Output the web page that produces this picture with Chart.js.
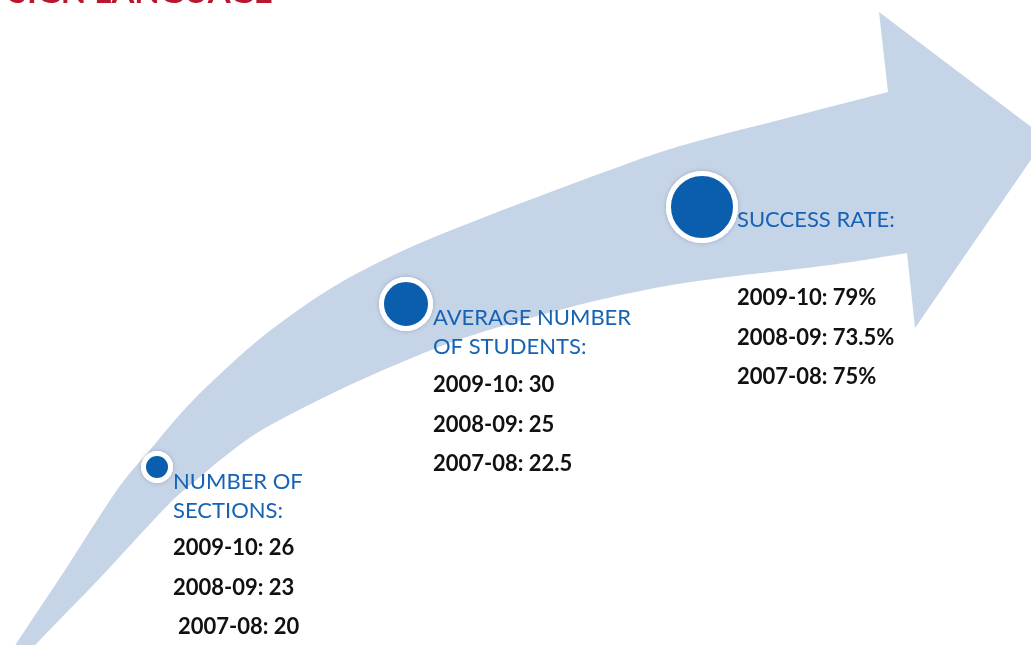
<!DOCTYPE html>
<html>
<head>
<meta charset="utf-8">
<style>
  html, body { margin: 0; padding: 0; background: #ffffff; }
  #wrap { width: 1031px; height: 645px; position: relative; overflow: hidden; }
  canvas { display: block; }
</style>
<script src="https://cdn.jsdelivr.net/npm/chart.js@4/dist/chart.umd.min.js"></script>
</head>
<body>
<div id="wrap"><canvas id="c" width="1031" height="645"></canvas></div>
<script>
// ---------------- DATA ----------------
const pageTitle = 'SIGN LANGUAGE';
const metricTitles = [
  ['NUMBER OF', 'SECTIONS:'],
  ['AVERAGE NUMBER', 'OF STUDENTS:'],
  ['SUCCESS RATE:']
];
const years = ['2009-10', '2008-09', '2007-08'];
const numberOfSections = [26, 23, 20];
const averageStudents = [30, 25, 22.5];
const successRate = [79, 73.5, 75];
const valueSuffix = ['', '', '%'];

// ---------------- LAYOUT (positions / sizes, in scale units = px) ----------------
const markerX = [157, 406, 702];
const markerY = [467, 304, 207];
const markerR = [11, 22, 31];
const labelX = [173, 433, 737];
const headerBase = [489, 325, 227];
const headerGap = 29;
const valueBase = [555, 392, 305];
const valueGap = 39.5;
const valueIndent = [[0, 0, 5], [0, 0, 0], [0, 0, 0]];

// arrow outline (decorative)
const arrowUpper = [[12,650],[67,567],[117,490],[150,450],[183,411],[217,377],[267,333],[333,287],[400,252],[467,224],[540,196],[610,170],[680,146],[787,118],[888,92]];
const arrowHead = [[879,12],[1046,138],[915,328],[907,253]];
const arrowLower = [[907,253],[830,265],[720,278],[650,289],[567,308],[467,337],[400,363],[333,393],[267,427],[233,450],[200,477],[167,506],[100,578],[40,640],[32,650]];

// ---------------- STYLE ----------------
const arrowColor = '#c6d4e8';
const markerColor = '#0a5ead';
const headerColor = '#1663b3';
const valueColor = '#111111';
const titleColor = '#b8172f';
const fontFamily = 'Lato, "Open Sans", "DejaVu Sans", sans-serif';

const allValues = [numberOfSections, averageStudents, successRate];

function catmull(ctx, pts, moveFirst) {
  if (moveFirst) ctx.moveTo(pts[0][0], pts[0][1]); else ctx.lineTo(pts[0][0], pts[0][1]);
  for (let i = 0; i < pts.length - 1; i++) {
    const p0 = pts[i - 1] || pts[i];
    const p1 = pts[i];
    const p2 = pts[i + 1];
    const p3 = pts[i + 2] || pts[i + 1];
    const c1x = p1[0] + (p2[0] - p0[0]) / 6, c1y = p1[1] + (p2[1] - p0[1]) / 6;
    const c2x = p2[0] - (p3[0] - p1[0]) / 6, c2y = p2[1] - (p3[1] - p1[1]) / 6;
    ctx.bezierCurveTo(c1x, c1y, c2x, c2y, p2[0], p2[1]);
  }
}

const arrowPlugin = {
  id: 'arrowBackdrop',
  beforeDatasetsDraw(chart) {
    const {ctx, scales: {x, y}} = chart;
    const px = p => [x.getPixelForValue(p[0]), y.getPixelForValue(p[1])];
    ctx.save();
    // cut-off title at the very top
    ctx.fillStyle = titleColor;
    ctx.font = 'bold 33px ' + fontFamily;
    ctx.textBaseline = 'alphabetic';
    ctx.fillText(pageTitle, 9, y.getPixelForValue(3));

    ctx.beginPath();
    catmull(ctx, arrowUpper.map(px), true);
    arrowHead.map(px).forEach(p => ctx.lineTo(p[0], p[1]));
    catmull(ctx, arrowLower.map(px), false);
    ctx.closePath();
    ctx.fillStyle = arrowColor;
    ctx.fill();

    // soft halo behind marker rings
    chart.getDatasetMeta(0).data.forEach((el, i) => {
      ctx.beginPath();
      ctx.arc(el.x, el.y, markerR[i] + 5, 0, Math.PI * 2);
      ctx.shadowColor = 'rgba(80,90,110,0.35)';
      ctx.shadowBlur = 4;
      ctx.fillStyle = '#ffffff';
      ctx.fill();
    });
    ctx.restore();
  },
  afterDatasetsDraw(chart) {
    const {ctx, scales: {x, y}} = chart;
    ctx.save();
    ctx.textBaseline = 'alphabetic';
    ctx.textAlign = 'left';
    metricTitles.forEach((lines, i) => {
      ctx.font = '22px ' + fontFamily;
      ctx.fillStyle = headerColor;
      lines.forEach((t, j) => {
        ctx.fillText(t, x.getPixelForValue(labelX[i]), y.getPixelForValue(headerBase[i] + j * headerGap));
      });
      ctx.font = 'bold 22px ' + fontFamily;
      ctx.fillStyle = valueColor;
      years.forEach((yr, j) => {
        const txt = yr + ': ' + allValues[i][j] + valueSuffix[i];
        ctx.fillText(txt, x.getPixelForValue(labelX[i] + valueIndent[i][j]), y.getPixelForValue(valueBase[i] + j * valueGap));
      });
    });
    ctx.restore();
  }
};

new Chart(document.getElementById('c'), {
  type: 'bubble',
  data: {
    datasets: [{
      label: 'metrics',
      data: markerX.map((mx, i) => ({ x: mx, y: markerY[i], r: markerR[i] + 2.5 })),
      backgroundColor: markerColor,
      borderColor: '#ffffff',
      borderWidth: 5,
      hoverBorderWidth: 5,
      clip: false
    }]
  },
  options: {
    responsive: false,
    animation: false,
    devicePixelRatio: 1,
    layout: { padding: 0, autoPadding: false },
    plugins: { legend: { display: false }, tooltip: { enabled: false } },
    scales: {
      x: { type: 'linear', min: 0, max: 1031, display: false },
      y: { type: 'linear', min: 0, max: 645, reverse: true, display: false }
    }
  },
  plugins: [arrowPlugin]
});
</script>
</body>
</html>
